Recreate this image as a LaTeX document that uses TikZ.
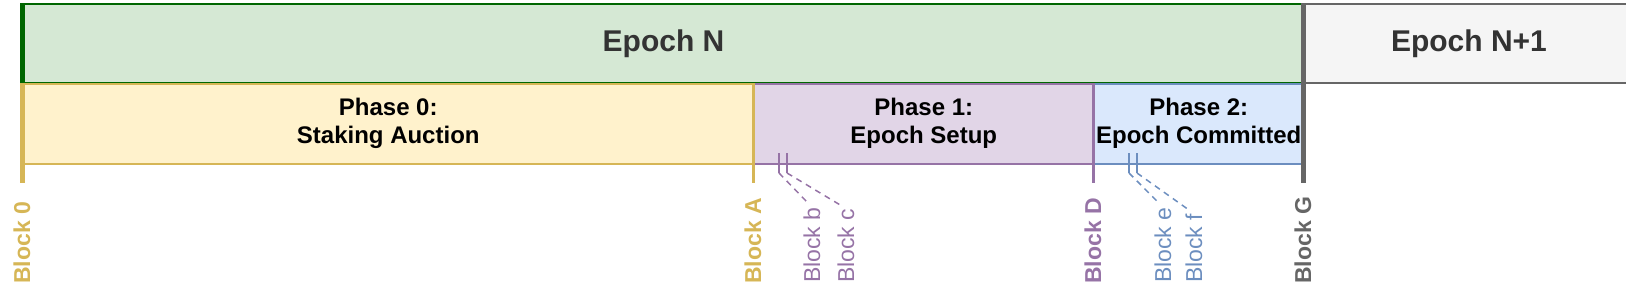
\documentclass[tikz,border=0pt]{standalone}
\usepackage{fontspec}
\setmainfont{Liberation Sans}
\usepackage{xcolor}
\usetikzlibrary{positioning,calc}
\definecolor{epochgreen}{HTML}{D5E8D4}
\definecolor{darkgreen}{HTML}{006600}
\definecolor{epochgrey}{HTML}{F5F5F5}
\definecolor{midgrey}{HTML}{666666}
\definecolor{textgrey}{HTML}{333333}
\definecolor{yellowfill}{HTML}{FFF2CC}
\definecolor{yellowline}{HTML}{D6B656}
\definecolor{purplefill}{HTML}{E1D5E7}
\definecolor{purpleline}{HTML}{9673A6}
\definecolor{bluefill}{HTML}{DAE8FC}
\definecolor{blueline}{HTML}{6C8EBF}

\begin{document}
\begin{tikzpicture}[x=1pt, y=-1pt,
    epoch/.style={anchor=north west, inner sep=0pt, minimum height=79pt, line width=2pt,
                  text=textgrey, font=\fontsize{30}{34}\selectfont\bfseries},
    phase/.style={anchor=north west, inner sep=0pt, minimum height=80pt, line width=1.5pt,
                  align=center, font=\fontsize{24}{28}\selectfont\bfseries},
    blk/.style={rotate=90, anchor=west, inner sep=0pt, font=\fontsize{23}{23}\selectfont\bfseries},
    subblk/.style={rotate=90, anchor=west, inner sep=0pt, font=\fontsize{23}{23}\selectfont},
    bound/.style={line width=3pt},
    subtick/.style={line width=1.5pt},
    subdash/.style={line width=1.5pt, dash pattern=on 6pt off 5pt, shorten >=7pt}]
\useasboundingbox (0,0) rectangle (1626,308);
\node[epoch, fill=epochgreen, draw=darkgreen, minimum width=1281pt] (epn) at (22,3) {Epoch N};
\node[epoch, fill=epochgrey, draw=midgrey, minimum width=330pt] (epn1) at (1303,3) {Epoch N+1};
\node[phase, fill=yellowfill, draw=yellowline, minimum width=731pt] (ph0) at (22,83) {Phase 0:\\Staking Auction};
\node[phase, fill=purplefill, draw=purpleline, minimum width=340pt] (ph1) at (753,83) {Phase 1:\\Epoch Setup};
\node[phase, fill=bluefill, draw=blueline, minimum width=210pt] (ph2) at (1093,83) {Phase 2:\\Epoch Committed};
\draw[bound, darkgreen, line width=5pt] (epn.north west) -- (ph0.north west);
\coordinate (t0) at (22,183);
\coordinate (tA) at (753,183);
\coordinate (tD) at (1093,183);
\coordinate (tG) at (1303,183);
\draw[bound, yellowline, line width=5pt] (ph0.north west) -- (t0);
\draw[bound, yellowline] (ph1.north west) -- (tA);
\draw[bound, purpleline] (ph2.north west) -- (tD);
\draw[bound, midgrey, line width=5pt] (epn1.north west) -- (tG);
\node[blk, text=yellowline] (b0) at (22,284) {Block 0};
\node[blk, text=yellowline] (bA) at (753,284) {Block A};
\node[blk, text=purpleline] (bD) at (1093,284) {Block D};
\node[blk, text=midgrey] (bG) at (1303,284) {Block G};
\node[subblk, text=purpleline] (bb) at (812,283) {Block b};
\node[subblk, text=purpleline] (bc) at (846,283) {Block c};
\node[subblk, text=blueline] (be) at (1163,283) {Block e};
\node[subblk, text=blueline] (bf) at (1194,283) {Block f};
\coordinate (sb) at (779,153);
\coordinate (sc) at (787,153);
\coordinate (se) at (1129,153);
\coordinate (sf) at (1137,153);
\draw[subtick, purpleline] (sb) -- ++(0,20) coordinate (sb2);
\draw[subtick, purpleline] (sc) -- ++(0,20) coordinate (sc2);
\draw[subtick, blueline] (se) -- ++(0,20) coordinate (se2);
\draw[subtick, blueline] (sf) -- ++(0,20) coordinate (sf2);
\draw[subdash, purpleline] (sb2) -- (bb.east);
\draw[subdash, purpleline] (sc2) -- (bc.east);
\draw[subdash, blueline] (se2) -- (be.east);
\draw[subdash, blueline] (sf2) -- (bf.east);
\end{tikzpicture}
\end{document}
